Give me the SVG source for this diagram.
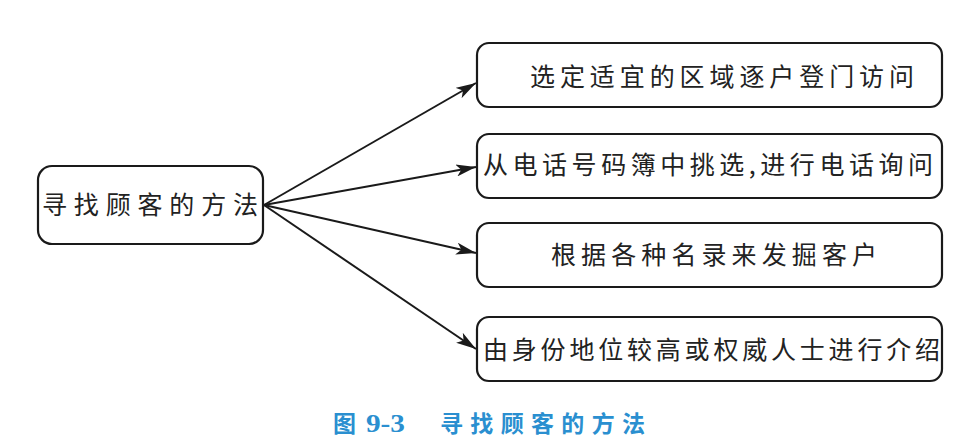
<svg xmlns="http://www.w3.org/2000/svg" width="957" height="446" viewBox="0 0 957 446">
<style>
.box{fill:#fff;stroke:#1a1a1a;stroke-width:2.2}
.t{font-family:"Noto Sans CJK SC","Noto Sans CJK JP",sans-serif;font-size:25px;fill:#222}
.ln{stroke:#1a1a1a;stroke-width:2;fill:none}
.cap{font-family:"Noto Sans CJK SC",sans-serif;font-size:23px;font-weight:bold;fill:#2a8fd0}
.num{font-family:"Liberation Serif","Noto Sans CJK SC",serif;font-size:26px}
</style>
<defs>
<marker id="ah" viewBox="0 0 20 12" refX="20" refY="6" markerWidth="20" markerHeight="12" markerUnits="userSpaceOnUse" orient="auto">
<path d="M0,0 L20,6 L0,12 L5,6 Z" fill="#1a1a1a"/>
</marker>
</defs>
<g id="connectors">
<line class="ln" x1="264" y1="205" x2="476" y2="83" marker-end="url(#ah)"/>
<line class="ln" x1="264" y1="205" x2="476" y2="167" marker-end="url(#ah)"/>
<line class="ln" x1="264" y1="205" x2="476" y2="253" marker-end="url(#ah)"/>
<line class="ln" x1="264" y1="205" x2="476" y2="349" marker-end="url(#ah)"/>
</g>
<g id="root">
<rect class="box" x="38" y="166" width="225" height="78" rx="14"/>
<text class="t" x="42" y="214" textLength="216" lengthAdjust="spacing">寻找顾客的方法</text>
</g>
<g id="n1">
<rect class="box" x="477" y="43" width="465" height="64" rx="12"/>
<text class="t" x="530" y="86" textLength="384" lengthAdjust="spacing">选定适宜的区域逐户登门访问</text>
</g>
<g id="n2">
<rect class="box" x="477" y="134" width="465" height="64" rx="12"/>
<text class="t" x="483" y="174" textLength="450" lengthAdjust="spacing">从电话号码簿中挑选,进行电话询问</text>
</g>
<g id="n3">
<rect class="box" x="477" y="223" width="465" height="64" rx="12"/>
<text class="t" x="551" y="264" textLength="326" lengthAdjust="spacing">根据各种名录来发掘客户</text>
</g>
<g id="n4">
<rect class="box" x="477" y="317" width="465" height="64" rx="12"/>
<text class="t" x="483" y="359" textLength="457" lengthAdjust="spacing">由身份地位较高或权威人士进行介绍</text>
</g>
<g id="caption">
<text class="cap" x="333" y="432">图</text>
<text class="cap num" x="366" y="432" textLength="39" lengthAdjust="spacingAndGlyphs">9-3</text>
<text class="cap" x="440" y="432" textLength="205" lengthAdjust="spacing">寻找顾客的方法</text>
</g>
</svg>
